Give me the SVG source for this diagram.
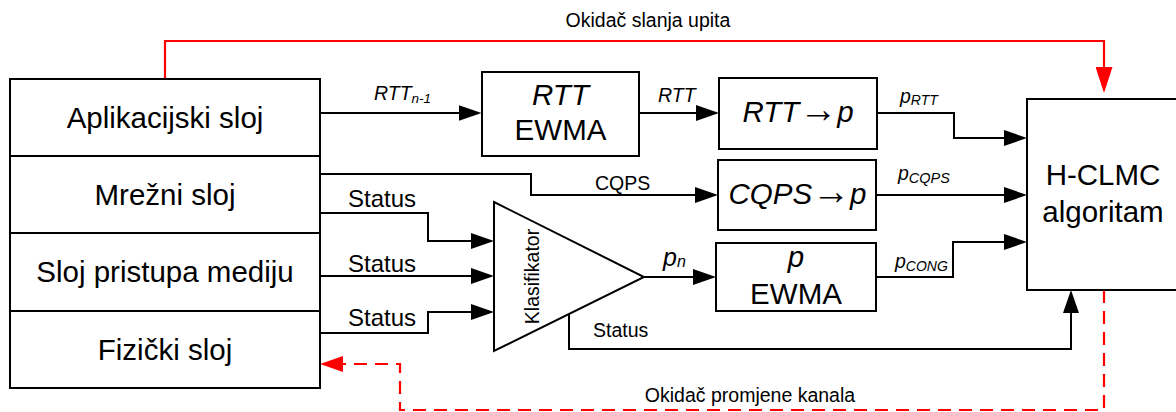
<svg xmlns="http://www.w3.org/2000/svg" width="1176" height="412" viewBox="0 0 1176 412">
<defs>
<style>
.box{fill:#fff;stroke:#000;stroke-width:2}
.ln{fill:none;stroke:#000;stroke-width:2}
.red{fill:none;stroke:#f00;stroke-width:2.2}
.dash{fill:none;stroke:#f00;stroke-width:2.2;stroke-dasharray:13 8}
text{font-family:"Liberation Sans",Arial,sans-serif;fill:#000}
.big{font-size:29.5px}
.mid{font-size:24px}
.sm{font-size:19.5px}
.it{font-style:italic}
.c{text-anchor:middle}
.arw{font-family:"Liberation Sans",sans-serif;font-style:normal;font-size:38px}
</style>
<marker id="ab" markerUnits="userSpaceOnUse" viewBox="0 0 23 16" refX="13" refY="8" markerWidth="23" markerHeight="16" orient="auto">
<path d="M0,0 L23,8 L0,16 z" fill="#000"/>
</marker>
<marker id="ar" markerUnits="userSpaceOnUse" viewBox="0 0 26 17" refX="16" refY="8.5" markerWidth="26" markerHeight="17" orient="auto">
<path d="M0,0 L26,8.5 L0,17 z" fill="#f00"/>
</marker>
<marker id="ard" markerUnits="userSpaceOnUse" viewBox="0 0 23 16" refX="13" refY="8" markerWidth="23" markerHeight="16" orient="auto">
<path d="M0,0 L23,8 L0,16 z" fill="#f00"/>
</marker>
</defs>
<rect width="1176" height="412" fill="#fff"/>

<g id="connectors">
<path class="red" d="M165,79 V41 H1104 V83" marker-end="url(#ar)"/>
<path class="dash" d="M1104,290 V410 H400 V364 H330" marker-end="url(#ard)"/>
<path class="ln" d="M320,113 H471.5" marker-end="url(#ab)"/>
<path class="ln" d="M639,113 H709" marker-end="url(#ab)"/>
<path class="ln" d="M877,113 H954 V138 H1017" marker-end="url(#ab)"/>
<path class="ln" d="M320,174 H531 V195 H708" marker-end="url(#ab)"/>
<path class="ln" d="M876,195 H1017" marker-end="url(#ab)"/>
<path class="ln" d="M320,213 H428 V241 H484" marker-end="url(#ab)"/>
<path class="ln" d="M320,276 H484" marker-end="url(#ab)"/>
<path class="ln" d="M320,333 H428 V312 H484" marker-end="url(#ab)"/>
<path class="ln" d="M644,277 H706" marker-end="url(#ab)"/>
<path class="ln" d="M876,277 H953 V242 H1017" marker-end="url(#ab)"/>
<path class="ln" d="M569,314 V349 H1071 V300" marker-end="url(#ab)"/>
</g>

<g id="labels">
<text class="sm c" x="648" y="27">Okidač slanja upita</text>
<text class="sm c" x="750" y="402">Okidač promjene kanala</text>
<text class="sm it" x="374" y="100">RTT<tspan font-size="13.5" dy="2.7">n-1</tspan></text>
<text class="sm it" x="658" y="101.5">RTT</text>
<text class="sm it" x="900" y="103">p<tspan font-size="14" dy="2.3">RTT</tspan></text>
<text class="sm" x="595" y="190">CQPS</text>
<text class="sm it" x="898" y="180">p<tspan font-size="14.5" dy="3">CQPS</tspan></text>
<text class="sm it" x="895" y="267.5">p<tspan font-size="14" dy="3">CONG</tspan></text>
<text class="mid" x="348" y="206.5">Status</text>
<text class="mid" x="348" y="271.5">Status</text>
<text class="mid" x="348" y="326">Status</text>
<text class="sm" x="593" y="336.5">Status</text>
<text class="it" font-size="25" x="663" y="266">p<tspan font-size="16" dy="0.5">n</tspan></text>
</g>

<g id="stack">
<rect class="box" x="10" y="79" width="310" height="309"/>
<path class="ln" d="M10,156 H320 M10,233 H320 M10,311 H320"/>
</g>
<g id="app"><text class="big c" x="165" y="127.5">Aplikacijski sloj</text></g>
<g id="net"><text class="big c" x="165" y="205">Mrežni sloj</text></g>
<g id="mac"><text class="big c" x="165" y="282">Sloj pristupa mediju</text></g>
<g id="phy"><text class="big c" x="165" y="359.5">Fizički sloj</text></g>

<g id="rttewma">
<rect class="box" x="482" y="72" width="157" height="84"/>
<text class="big it c" x="560.5" y="105">RTT</text>
<text class="big c" x="560.5" y="140">EWMA</text>
</g>
<g id="rtt2p">
<rect class="box" x="719" y="78" width="158" height="71"/>
<text class="big it c" x="798" y="122">RTT<tspan class="arw">→</tspan>p</text>
</g>
<g id="cqps2p">
<rect class="box" x="718" y="160" width="158" height="70"/>
<text class="big it c" x="797.5" y="203.5">CQPS<tspan class="arw">→</tspan>p</text>
</g>
<g id="pewma">
<rect class="box" x="716" y="243" width="160" height="68"/>
<text class="big it c" x="796" y="266.5">p</text>
<text class="big c" x="796" y="304">EWMA</text>
</g>
<g id="klasifikator">
<polygon class="box" points="494,202 644,277 494,351"/>
<text class="sm c" transform="translate(539,276.5) rotate(-90)">Klasifikator</text>
</g>
<g id="hclmc">
<rect class="box" x="1027" y="99" width="200" height="191"/>
<text class="big c" x="1103" y="185">H-CLMC</text>
<text class="big c" x="1103" y="221.5">algoritam</text>
</g>
</svg>
